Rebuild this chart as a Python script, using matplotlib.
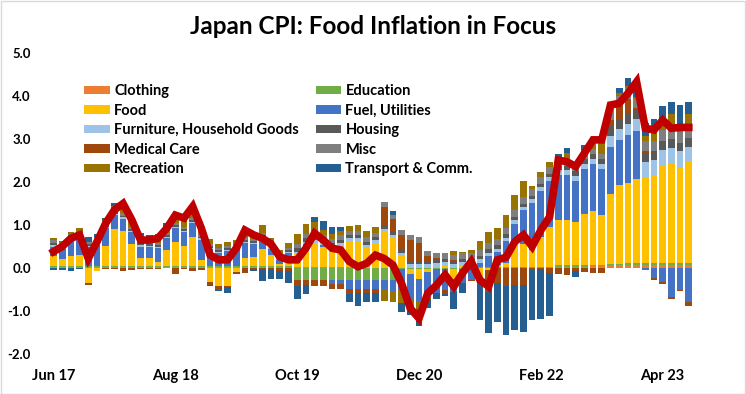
import numpy as np
import matplotlib
matplotlib.use("Agg")
import matplotlib.pyplot as plt
from matplotlib.patches import Rectangle

plt.rcParams['font.family'] = ['Lato', 'DejaVu Sans']
plt.rcParams['font.weight'] = 'bold'

# monthly, Jun 2017 .. Jul 2023 (contribution to y/y CPI, pp)
n_months = 74
tick_pos = [0, 14, 28, 42, 56, 70]
tick_labels = ['Jun 17', 'Aug 18', 'Oct 19', 'Dec 20', 'Feb 22', 'Apr 23']

clothing = [0.02] * 12 + [0.02] * 12 + [0.02] * 12 + [0.01] * 12 + \
    [0.01] * 10 + [0.03, 0.03] + \
    [0.03, 0.03, 0.04, 0.04, 0.07, 0.07, 0.08, 0.08, 0.08, 0.08, 0.08, 0.08] + [0.08, 0.08]
education = [0.02] * 28 + [-0.28] * 12 + [-0.02] * 8 + [0.01] * 10 + [0.03] * 16
food = [0.24, 0.17, 0.24, 0.26, -0.36, -0.08, 0.47, 0.86, 0.82, 0.51, 0.19, 0.20,
        0.11, 0.38, 0.57, 0.47, 0.69, 0.15, -0.32, -0.42, -0.42, -0.10, 0.19, 0.22,
        0.40, 0.26, 0.05, 0.25, 0.30, 0.38, 0.57, 0.46, 0.42, 0.50, 0.61, 0.61,
        0.46, 0.57, 0.84, 0.69, 0.26, -0.12, -0.24, -0.08, 0.02, 0.05, -0.24, 0.05,
        0.03, -0.28, -0.05, 0.05, 0.10, 0.54, 0.54, 0.40, 0.70, 0.93, 1.05, 1.05,
        1.00, 1.20, 1.25, 1.16, 1.63, 1.82, 1.86, 1.96, 2.00, 2.05, 2.29, 2.33,
        2.25, 2.36]
fuel = [0.22, 0.23, 0.37, 0.40, 0.45, 0.50, 0.41, 0.33, 0.29, 0.29, 0.27, 0.25,
        0.31, 0.27, 0.31, 0.33, 0.31, 0.47, 0.40, 0.30, 0.35, 0.40, 0.35, 0.30,
        0.25, 0.15, 0.10, 0.05, 0.00, 0.15, 0.00, 0.05, -0.10, -0.10, -0.20, -0.20,
        -0.20, -0.20, -0.20, -0.25, -0.50, -0.60, -0.50, -0.58, -0.55, -0.50, -0.30, -0.32,
        -0.28, 0.10, 0.26, 0.30, 0.50, 0.47, 0.78, 1.10, 1.08, 1.08, 1.05, 1.05,
        0.97, 1.05, 1.10, 1.08, 1.08, 1.05, 1.12, 1.12, -0.05, -0.24, -0.32, -0.67,
        -0.51, -0.78]
furniture = [0.03] * 28 + [0.06] * 12 + [0.08] * 18 + [0.12] * 6 + [0.27] * 4 + [0.35] * 6
housing = [0.04] * 28 + [0.08] * 30 + [0.10] * 6 + [0.22] * 4 + [0.20] * 6
medical = [0.02, 0.02, 0.02, 0.02, -0.04, 0.02, -0.02, -0.02, -0.08, -0.04, -0.03, -0.03,
           -0.02, 0.00, -0.15, -0.03, -0.06, -0.04, -0.08, -0.10, -0.02, -0.03, -0.12, -0.02,
           -0.03, -0.03, -0.06, -0.06, -0.15, -0.12, -0.15, -0.15, -0.10, -0.10, -0.12, -0.10,
           -0.10, -0.10, 0.44, 0.30, 0.33, 0.47, 0.42, 0.10, 0.05, -0.08, 0.02, 0.00,
           -0.02, -0.05, -0.50, -0.36, -0.43, -0.40, -0.40, -0.05, -0.02, -0.12, -0.14, -0.16,
           -0.08, -0.10, -0.12, -0.12, 0.15, 0.30, 0.35, 0.05, 0.05, -0.03, -0.05, -0.06,
           -0.02, -0.10]
misc = [0.05] * 28 + [0.10] * 12 + [0.12] * 8 + [0.15] * 10 + [0.12] * 6 + \
    [0.25, 0.25, 0.25, 0.20] + [0.25] * 6
recreation = [0.05, 0.05, 0.05, 0.08, 0.00, 0.05, 0.08, 0.10, 0.19, 0.15, 0.12, 0.10,
              0.12, 0.14, 0.15, 0.20, 0.18, 0.15, 0.12, 0.10, 0.10, 0.10, 0.15, 0.15,
              0.20, 0.12, 0.12, 0.12, 0.22, 0.24, 0.23, 0.12, 0.10, 0.10, 0.10, 0.12,
              0.15, 0.14, -0.28, -0.25, -0.30, -0.25, -0.20, -0.05, -0.02, 0.02, 0.08, 0.03,
              0.05, 0.20, 0.24, 0.25, 0.30, 0.35, 0.38, 0.08, 0.12, 0.12, 0.04, 0.18,
              0.03, 0.10, 0.19, 0.27, 0.05, 0.05, 0.05, 0.05, 0.12, 0.27, 0.27, 0.35,
              0.20, 0.30]
transport = [-0.05, -0.04, -0.06, -0.03, 0.10, 0.05, 0.05, 0.06, 0.05, 0.05, 0.08, 0.06,
             0.08, 0.10, 0.07, 0.07, 0.05, 0.02, -0.02, -0.02, -0.15, -0.02, 0.00, -0.04,
             -0.28, -0.22, -0.20, -0.29, -0.30, -0.20, 0.13, 0.20, 0.18, 0.10, -0.20, -0.30,
             -0.20, -0.20, 0.00, 0.08, -0.20, -0.10, -0.40, -0.20, -0.12, -0.05, -0.40, -0.23,
             0.00, -0.88, -0.97, -0.90, -1.12, -1.04, -1.08, -1.16, -1.16, -1.00, 0.10, 0.10,
             -0.12, 0.10, 0.10, 0.10, 0.05, 0.12, 0.19, 0.30, 0.30, 0.23, 0.29, 0.27,
             0.42, 0.30]
headline = [0.38, 0.50, 0.69, 0.77, 0.22, 0.61, 1.04, 1.35, 1.50, 1.12, 0.65, 0.65,
            0.69, 0.92, 1.23, 1.16, 1.43, 0.92, 0.30, 0.19, 0.19, 0.46, 0.88, 0.77,
            0.69, 0.56, 0.26, 0.19, 0.19, 0.46, 0.81, 0.65, 0.46, 0.42, 0.15, 0.03,
            0.11, 0.30, 0.22, 0.07, -0.36, -0.94, -1.17, -0.59, -0.40, -0.16, -0.43, -0.12,
            0.15, -0.28, -0.43, 0.19, 0.25, 0.61, 0.77, 0.50, 0.88, 1.19, 2.51, 2.47,
            2.36, 2.67, 2.98, 2.98, 3.79, 3.83, 4.06, 4.33, 3.25, 3.21, 3.44, 3.25,
            3.27, 3.27]

series = [
    ('Clothing', clothing, '#ED7D31'),
    ('Education', education, '#70AD47'),
    ('Food', food, '#FFC000'),
    ('Fuel, Utilities', fuel, '#4472C4'),
    ('Furniture, Household Goods', furniture, '#9DC3E6'),
    ('Housing', housing, '#595959'),
    ('Medical Care', medical, '#9E480E'),
    ('Misc', misc, '#7F7F7F'),
    ('Recreation', recreation, '#997300'),
    ('Transport & Comm.', transport, '#255E91'),
]

fig = plt.figure(figsize=(7.46, 3.94), dpi=100)
ax = fig.add_axes([0.060, 0.1015, 0.875, 0.764])

x = np.arange(n_months)
pos_base = np.zeros(n_months)
neg_base = np.zeros(n_months)
handles = []
for name, vals, col in series:
    v = np.array(vals, dtype=float)
    bottom = np.where(v >= 0, pos_base, neg_base)
    h = ax.bar(x, v, 0.77, bottom=bottom, color=col, label=name, linewidth=0)
    handles.append(h)
    pos_base += np.where(v >= 0, v, 0)
    neg_base += np.where(v < 0, v, 0)

ax.plot(x, headline, color='#C00000', lw=5.5, solid_joinstyle='miter', zorder=5)

ax.set_xlim(-1, n_months)
ax.set_ylim(-2, 5)
ax.set_yticks(np.arange(-2, 6))
ax.set_yticklabels(['%.1f' % v for v in np.arange(-2, 6)])
ax.set_xticks(tick_pos)
ax.set_xticklabels(tick_labels)
ax.tick_params(axis='both', length=0, colors='black')
ax.tick_params(axis='y', pad=10, labelsize=9.5)
ax.tick_params(axis='x', pad=11, labelsize=10.5)
for s in ax.spines.values():
    s.set_visible(False)

# legend reads row-wise in the original, matplotlib fills column-wise
order = [0, 2, 4, 6, 8, 1, 3, 5, 7, 9]
ax.legend([handles[k] for k in order], [series[k][0] for k in order],
          ncol=2, loc='upper left', bbox_to_anchor=(0.103, 0.805),
          bbox_transform=fig.transFigure, frameon=False, fontsize=10.5,
          handlelength=1.75, handleheight=0.5, handletextpad=0.3,
          columnspacing=1.15, labelspacing=0.38, borderpad=0)

fig.suptitle('Japan CPI: Food Inflation in Focus', fontsize=17.5, fontweight='bold', y=0.962)
fig.patches.append(Rectangle((0.001, 0.001), 0.997, 0.997, transform=fig.transFigure,
                             fill=False, edgecolor='#D9D9D9', lw=1))

fig.savefig('out.png', dpi=100)
